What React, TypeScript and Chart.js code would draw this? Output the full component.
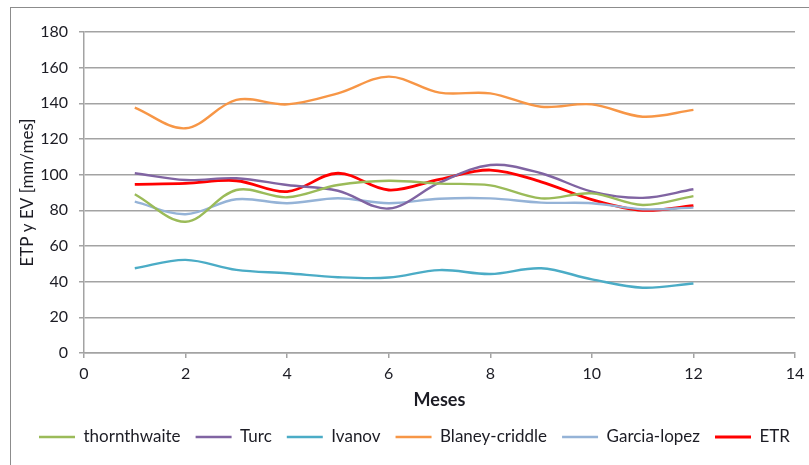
import React, { useEffect, useRef } from "react";
import { Chart, registerables } from "chart.js";

Chart.register(...registerables);

const months = [1, 2, 3, 4, 5, 6, 7, 8, 9, 10, 11, 12];
const thornthwaite = [89, 73.6, 91.4, 87.3, 94.2, 96.6, 95, 94, 86.7, 89.5, 83, 88];
const turc = [100.8, 97, 98, 94.2, 91, 81, 95.5, 105.4, 100.8, 90.5, 87, 91.8];
const ivanov = [47.5, 52.2, 46.6, 44.7, 42.5, 42.3, 46.5, 44.3, 47.5, 41.3, 36.6, 39];
const blaneyCriddle = [137.6, 126, 141.9, 139.4, 145.6, 155, 146, 145.6, 138.1, 139.4, 132.5, 136.3];
const garciaLopez = [84.9, 77.8, 86.2, 84, 86.8, 84, 86.5, 86.7, 84.3, 84, 80.6, 81.5];
const etr = [94.6, 95.1, 96.6, 90.5, 100.8, 91.4, 97.4, 102.6, 96, 86, 80, 82.6];

const seriesNames = ["thornthwaite", "Turc", "Ivanov", "Blaney-criddle", "Garcia-lopez", "ETR"];
const seriesColors = ["#9BBB59", "#8064A2", "#4BACC6", "#F79646", "#95B3D7", "#FF0000"];
const seriesValues = [thornthwaite, turc, ivanov, blaneyCriddle, garciaLopez, etr];

const xTitle = "Meses";
const yTitle = "ETP y EV [mm/mes]";

const FONT = "Lato, 'Liberation Sans', sans-serif";
const TEXT = "#1c1c24";
const GRID = "#a3a3a3";

export default function App() {
  const ref = useRef<HTMLCanvasElement | null>(null);

  useEffect(() => {
    if (!ref.current) return;
    const datasets = seriesValues.map((vals, i) => ({
      label: seriesNames[i],
      data: months.map((m, j) => ({ x: m, y: vals[j] })),
      borderColor: seriesColors[i],
      backgroundColor: seriesColors[i],
      borderWidth: i === 5 ? 2.8 : 2.4,
      pointRadius: 0,
      pointHoverRadius: 0,
      tension: 0.35,
      fill: false,
    }));
    const chart = new Chart(ref.current, {
      type: "line",
      data: { datasets },
      options: {
        animation: false,
        responsive: false,
        devicePixelRatio: 1,
        events: [],
        layout: { padding: { left: 20, right: 0, top: 32, bottom: 9.5 } },
        plugins: {
          tooltip: { enabled: false },
          legend: {
            position: "bottom",
            align: "center",
            labels: {
              boxWidth: 36,
              boxHeight: 0,
              padding: 15,
              color: TEXT,
              font: { family: FONT, size: 17 },
            },
          },
        },
        scales: {
          x: {
            type: "linear",
            min: 0,
            max: 14,
            afterFit: (s: any) => {
              s.height = 60.5;
              s.paddingRight = 14;
            },
            ticks: {
              stepSize: 2,
              padding: 6,
              color: TEXT,
              font: { family: FONT, size: 16 },
            },
            grid: { drawOnChartArea: false, drawTicks: true, tickLength: 5, color: GRID, lineWidth: 1.5 },
            border: { display: true, color: GRID, width: 1.5 },
            title: {
              display: true,
              text: xTitle,
              color: TEXT,
              font: { family: FONT, size: 18, weight: "bold" },
              padding: { top: 0, bottom: 2.5 },
            },
          },
          y: {
            min: 0,
            max: 180,
            afterFit: (s: any) => {
              s.width = 64;
            },
            ticks: {
              stepSize: 20,
              padding: 11,
              color: TEXT,
              font: { family: FONT, size: 16 },
            },
            grid: { drawTicks: true, tickLength: 5, color: GRID, lineWidth: 1.5 },
            border: { display: true, color: GRID, width: 1.5 },
            title: {
              display: true,
              text: yTitle,
              color: TEXT,
              font: { family: FONT, size: 17 },
              padding: { top: -3, bottom: 0 },
            },
          },
        },
      },
    });
    return () => chart.destroy();
  }, []);

  return (
    <div
      style={{
        position: "fixed",
        left: 0,
        top: 0,
        width: 809,
        height: 465,
        overflow: "hidden",
        background: "#fff",
      }}
    >
      <div
        style={{
          position: "absolute",
          left: 10,
          top: 7,
          width: 900,
          height: 600,
          border: "1px solid #8c8c8c",
        }}
      />
      <canvas
        ref={ref}
        width={809}
        height={465}
        style={{ position: "absolute", left: 0, top: 0, width: 809, height: 465 }}
      />
    </div>
  );
}
